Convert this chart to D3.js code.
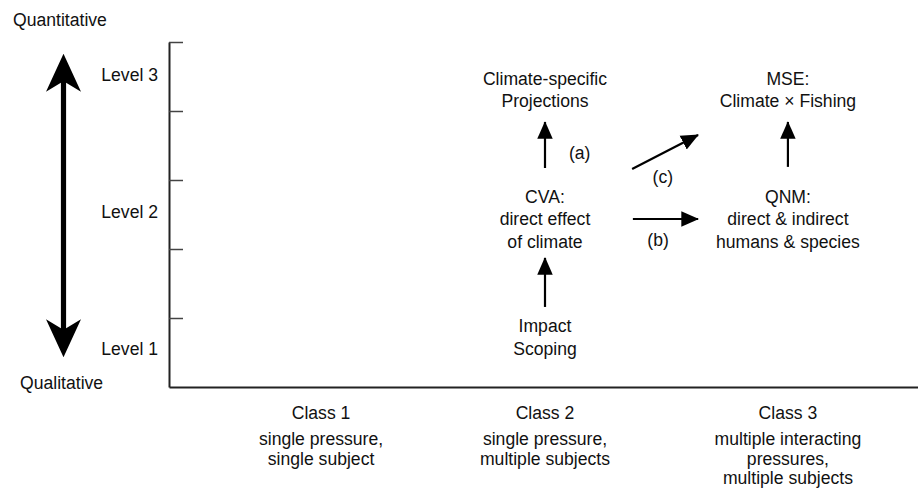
<!DOCTYPE html>
<html>
<head>
<meta charset="utf-8">
<script src="https://cdn.jsdelivr.net/npm/d3@7/dist/d3.min.js"></script>
<style>
  html, body { margin: 0; padding: 0; background: #fff; }
  svg { display: block; }
  text { font-family: "Liberation Sans", Arial, Helvetica, sans-serif; fill: #111; }
</style>
</head>
<body>
<svg id="chart" width="918" height="494"></svg>
<script>
// ---- data ----
const levels = [1, 2, 3, 4, 5];                       // tick values on the level axis
const levelLabels = ["Level 1", "Level 2", "Level 3"];
const levelLabelValues = [0.56, 2.54, 4.52];
const classNames = ["Class 1", "Class 2", "Class 3"];
const classPos = [0.609, 1.506, 2.479];
const classDesc = [
  ["single pressure,", "single subject"],
  ["single pressure,", "multiple subjects"],
  ["multiple interacting", "pressures,", "multiple subjects"]
];
const nodeLines = [
  ["Impact", "Scoping"],
  ["CVA:", "direct effect", "of climate"],
  ["Climate-specific", "Projections"],
  ["QNM:", "direct & indirect", "humans & species"],
  ["MSE:", "Climate \u00d7 Fishing"]
];
const nodeClass = [1, 1, 1, 2, 2];
const nodeLevel = [0.72, 2.43, 4.31, 2.43, 4.31];
const arrowFrom = [[1.506, 1.16], [1.506, 3.174], [1.858, 2.435], [1.855, 3.16], [2.479, 3.19]];
const arrowTo   = [[1.506, 1.87], [1.506, 3.84], [2.119, 2.435], [2.119, 3.652], [2.479, 3.84]];
const arrowLabels = ["(a)", "(b)", "(c)"];
const arrowLabelPos = [[1.645, 3.39], [1.959, 2.13], [1.978, 3.04]];
const bigArrowRange = [0.43, 4.83];

// ---- scales ----
const svg = d3.select("#chart");
const x = d3.scaleLinear().domain([0, 3]).range([169, 918]);
const y = d3.scaleLinear().domain([0, 5]).range([387, 42]);
const fs = 17.6;

// defs: arrowhead
svg.append("defs").append("marker")
  .attr("id", "head").attr("viewBox", "0 0 10 10")
  .attr("refX", 9.5).attr("refY", 5)
  .attr("markerWidth", 8).attr("markerHeight", 8)
  .attr("markerUnits", "strokeWidth")
  .attr("orient", "auto")
  .append("path").attr("d", "M0,0.6 L10,5 L0,9.4 Z").attr("fill", "#000");

// y axis
const yAxis = d3.axisRight(y).tickValues(levels).tickSize(14).tickSizeOuter(0).tickFormat("");
const gy = svg.append("g").attr("transform", `translate(${x(0)},0)`).call(yAxis);
gy.select(".domain").attr("stroke", "#222").attr("stroke-width", 2);
gy.selectAll(".tick line").attr("stroke", "#444").attr("stroke-width", 1.5);

// x axis line
const xAxis = d3.axisBottom(x).tickValues([]).tickSizeOuter(0);
const gx = svg.append("g").attr("transform", `translate(0,${y(0)})`).call(xAxis);
gx.select(".domain").attr("stroke", "#222").attr("stroke-width", 2.2);

// level labels
svg.selectAll(".lvl").data(levelLabels).join("text")
  .attr("class", "lvl")
  .attr("x", x(0) - 11)
  .attr("y", (d, i) => y(levelLabelValues[i]))
  .attr("dy", "0.35em")
  .attr("text-anchor", "end")
  .style("font-size", fs + "px")
  .text(d => d);

// Quantitative / Qualitative
svg.append("text").attr("x", 13).attr("y", 26).style("font-size", fs + "px").text("Quantitative");
svg.append("text").attr("x", 20).attr("y", 389).style("font-size", fs + "px").text("Qualitative");

// big double arrow
(function () {
  const cx = 63.5;
  const yTop = y(bigArrowRange[1]), yBot = y(bigArrowRange[0]);
  const hw = 17.5, hl = 38, notch = 29, sw = 2.6;
  const p = d3.path();
  p.moveTo(cx, yTop);
  p.lineTo(cx + hw, yTop + hl);
  p.lineTo(cx + sw, yTop + notch);
  p.lineTo(cx + sw, yBot - notch);
  p.lineTo(cx + hw, yBot - hl);
  p.lineTo(cx, yBot);
  p.lineTo(cx - hw, yBot - hl);
  p.lineTo(cx - sw, yBot - notch);
  p.lineTo(cx - sw, yTop + notch);
  p.lineTo(cx - hw, yTop + hl);
  p.closePath();
  svg.append("path").attr("d", p.toString()).attr("fill", "#000");
})();

// class labels
const cg = svg.selectAll(".cls").data(classNames).join("g").attr("class", "cls");
cg.append("text")
  .attr("x", (d, i) => x(classPos[i])).attr("y", 419)
  .attr("text-anchor", "middle").style("font-size", fs + "px").text(d => d);
cg.each(function (d, i) {
  d3.select(this).selectAll(".desc").data(classDesc[i]).join("text")
    .attr("class", "desc")
    .attr("x", x(classPos[i]))
    .attr("y", (t, j) => 445 + j * 19.5)
    .attr("text-anchor", "middle").style("font-size", fs + "px").text(t => t);
});

// nodes
const lh = 22.5;
nodeLines.forEach((lines, i) => {
  const cx = x(classPos[nodeClass[i]]);
  const cy = y(nodeLevel[i]);
  const n = lines.length;
  svg.append("g").selectAll("text").data(lines).join("text")
    .attr("x", cx)
    .attr("y", (t, j) => cy + (j - (n - 1) / 2) * lh)
    .attr("dy", "0.35em")
    .attr("text-anchor", "middle")
    .style("font-size", fs + "px")
    .text(t => t);
});

// arrows
svg.selectAll(".arr").data(arrowFrom).join("line")
  .attr("class", "arr")
  .attr("x1", d => x(d[0])).attr("y1", d => y(d[1]))
  .attr("x2", (d, i) => x(arrowTo[i][0])).attr("y2", (d, i) => y(arrowTo[i][1]))
  .attr("stroke", "#000").attr("stroke-width", 2.2)
  .attr("marker-end", "url(#head)");

// arrow labels
svg.selectAll(".alab").data(arrowLabels).join("text")
  .attr("class", "alab")
  .attr("x", (d, i) => x(arrowLabelPos[i][0]))
  .attr("y", (d, i) => y(arrowLabelPos[i][1]))
  .attr("dy", "0.35em")
  .attr("text-anchor", "middle")
  .style("font-size", fs + "px")
  .text(d => d);
</script>
</body>
</html>
